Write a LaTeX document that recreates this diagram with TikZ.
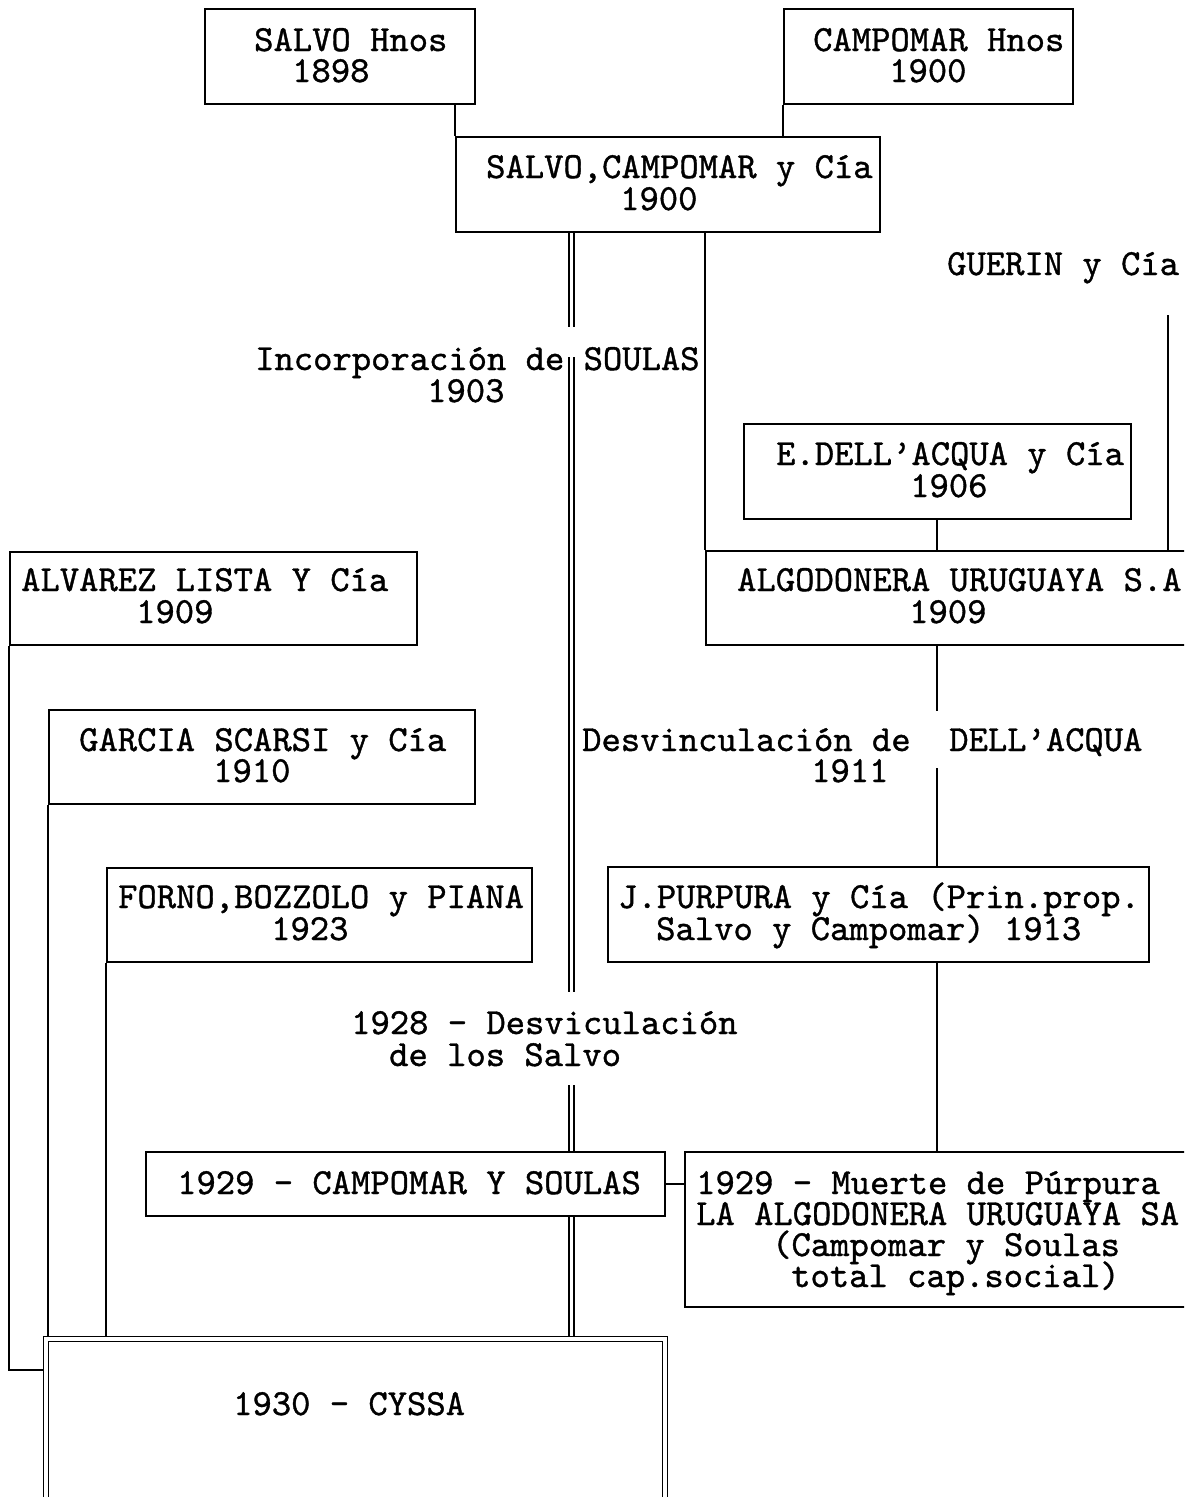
\documentclass[tikz,border=0pt]{standalone}
\usepackage{fontspec}
\newfontfamily\tfont{lmmono10-regular}[Extension=.otf, FakeBold=1]
\usetikzlibrary{fit,backgrounds}
\begin{document}
\begin{tikzpicture}[x=1pt,y=-1pt,
  bx/.style={draw, line width=2.4pt, inner sep=0pt, fit={#1}},
  tx/.style={anchor=base west, inner sep=0pt, font=\tfont\fontsize{36.8}{32}\selectfont},
  ln/.style={line width=2.2pt},
  thinln/.style={line width=1.4pt},
  dbl/.style={double, double distance=3.6pt, line width=1.6pt}]
\useasboundingbox (0,0) rectangle (1184,1497);
\clip (0,0) rectangle (1184,1497);
% boxes
\node[bx={(205,9) (475,104)}] (salvo) {};
\node[bx={(784,9) (1073,104)}] (camp) {};
\node[bx={(456,137) (880,232)}] (sc) {};
\node[bx={(744,424) (1131,519)}] (dell) {};
\node[bx={(706,551) (1195,645)}] (alg) {};
\node[bx={(10,552) (417,645)}] (alv) {};
\node[bx={(49,710) (475,804)}] (gar) {};
\node[bx={(107,868) (532,962)}] (forno) {};
\node[bx={(608,867) (1149,962)}] (pur) {};
\node[bx={(146,1152) (665,1216)}] (cs) {};
\node[bx={(685,1152) (1195,1307)}] (mu) {};
\node[draw, double, double distance=3.5pt, line width=1.6pt, inner sep=0pt, fit={(46,1339) (665,1510)}] (cys) {};
% texts
\node[tx] (salvoA) at (254,51) {SALVO Hnos};
\node[tx] (salvoB) at (292,82) {1898};
\node[tx] (campA) at (813,51) {CAMPOMAR Hnos};
\node[tx] (campB) at (889,82) {1900};
\node[tx] (scA) at (486,178) {SALVO,CAMPOMAR y Cía};
\node[tx] (scB) at (620,210) {1900};
\node[tx] (guer) at (947,275) {GUERIN y Cía};
\node[tx] (incA) at (255,370) {Incorporación de SOULAS};
\node[tx] (incB) at (427,402) {1903};
\node[tx] (dellA) at (776,465) {E.DELL’ACQUA y Cía};
\node[tx] (dellB) at (910,497) {1906};
\node[tx] (alvA) at (21,591) {ALVAREZ LISTA Y Cía};
\node[tx] (alvB) at (136,623) {1909};
\node[tx] (algA) at (737,591) {ALGODONERA URUGUAYA S.A};
\node[tx] (algB) at (909,623) {1909};
\node[tx] (garA) at (79,751) {GARCIA SCARSI y Cía};
\node[tx] (garB) at (213,782) {1910};
\node[tx] (desA) at (582,751) {Desvinculación de\ \ DELL’ACQUA};
\node[tx] (desB) at (811,782) {1911};
\node[tx] (forA) at (118,908) {FORNO,BOZZOLO y PIANA};
\node[tx] (forB) at (271,940) {1923};
\node[tx] (purA) at (618,908) {J.PURPURA y Cía (Prin.prop.};
\node[tx] (purB) at (656,940) {Salvo y Campomar) 1913};
\node[tx] (dsA) at (351,1034) {1928 - Desviculación};
\node[tx] (dsB) at (389,1066) {de los Salvo};
\node[tx] (csA) at (177,1194) {1929 - CAMPOMAR Y SOULAS};
\node[tx] (muA) at (696,1194) {1929 - Muerte de Púrpura};
\node[tx] (muB) at (696,1225) {LA ALGODONERA URUGUAYA SA};
\node[tx] (muC) at (772,1256) {(Campomar y Soulas};
\node[tx] (muD) at (791,1287) {total cap.social)};
\node[tx] (cysA) at (233,1415) {1930 - CYSSA};
% helper coordinates
\coordinate (dx) at (571.5,0);
\coordinate (g1) at (571.5,327);
\coordinate (g2) at (571.5,357);
\coordinate (g3) at (571.5,992);
\coordinate (g4) at (571.5,1085);
\coordinate (gu) at (1168,315);
\coordinate (vx) at (937,0);
\coordinate (h1) at (937,711);
\coordinate (h2) at (937,768);
\coordinate (cl) at (43,1370);
% connectors
\begin{scope}[on background layer]
\draw[ln] (sc.north west |- salvo.south) -- (sc.north west);
\draw[ln] (camp.south west) -- (camp.south west |- sc.north);
\draw[dbl] (sc.south -| dx) -- (g1);
\draw[dbl] (g2) -- (g3);
\draw[dbl] (g4) -- (cs.north -| dx);
\draw[dbl] (cs.south -| dx) -- (cys.north -| dx);
\draw[ln] (sc.south -| alg.north west) -- (alg.north west);
\draw[ln] (gu) -- (gu |- alg.north);
\draw[ln] (dell.south -| vx) -- (alg.north -| vx);
\draw[ln] (alg.south -| vx) -- (h1);
\draw[thinln] (h2) -- (pur.north -| vx);
\draw[thinln] (pur.south -| vx) -- (mu.north -| vx);
\draw[ln] (cs.east) -- (mu.west |- cs.east);
\draw[ln] (alv.south west) |- (cl);
\draw[ln] (gar.south west) -- (gar.south west |- cys.north);
\draw[ln] (forno.south west) -- (forno.south west |- cys.north);
\end{scope}
\end{tikzpicture}
\end{document}
